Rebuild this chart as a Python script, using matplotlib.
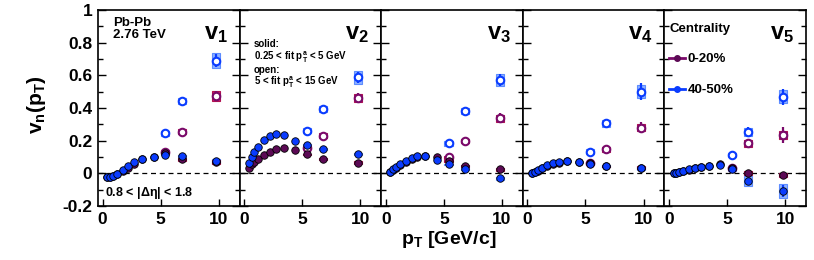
import matplotlib
matplotlib.use("Agg")
import matplotlib.pyplot as plt
from matplotlib.lines import Line2D
from matplotlib.ticker import MultipleLocator, FuncFormatter

plt.rcParams['font.family'] = ['Liberation Sans', 'DejaVu Sans']
plt.rcParams['font.weight'] = 'bold'
plt.rcParams['mathtext.fontset'] = 'custom'
plt.rcParams['mathtext.rm'] = 'Liberation Sans:bold'
plt.rcParams['mathtext.bf'] = 'Liberation Sans:bold'
plt.rcParams['mathtext.it'] = 'Liberation Sans:bold'
plt.rcParams['mathtext.default'] = 'bf'

# ---------------- data ----------------
harmonics = [1, 2, 3, 4, 5]
pt = [0.4, 0.63, 0.88, 1.22, 1.72, 2.22, 2.72, 3.4, 4.4, 5.4, 6.8, 9.8]
pt_hi = [5.4, 6.8, 9.8]

# solid: 0.25 < fit pT^a < 5 GeV
v1_c0020 = [-0.02, -0.02, -0.015, -0.005, 0.015, 0.035, 0.055, 0.085, 0.10, 0.125, 0.085, 0.07]
v1_c4050 = [-0.02, -0.02, -0.015, -0.005, 0.02, 0.045, 0.07, 0.09, 0.10, 0.115, 0.105, 0.075]
v2_c0020 = [0.035, 0.057, 0.071, 0.09, 0.112, 0.133, 0.149, 0.157, 0.143, 0.116, 0.086, 0.065]
v2_c4050 = [0.061, 0.098, 0.129, 0.163, 0.204, 0.229, 0.239, 0.235, 0.20, 0.173, 0.147, 0.118]
v3_c0020 = [0.01, 0.02, 0.032, 0.048, 0.068, 0.088, 0.10, 0.106, 0.098, 0.075, 0.045, 0.024]
v3_c4050 = [0.01, 0.024, 0.037, 0.055, 0.078, 0.096, 0.104, 0.106, 0.082, 0.055, 0.024, -0.031]
v4_c0020 = [0.004, 0.008, 0.016, 0.03, 0.045, 0.057, 0.066, 0.074, 0.07, 0.062, 0.042, 0.035]
v4_c4050 = [0.004, 0.01, 0.02, 0.035, 0.051, 0.063, 0.071, 0.078, 0.071, 0.057, 0.047, 0.031]
v5_c0020 = [0.0, 0.003, 0.007, 0.012, 0.022, 0.032, 0.039, 0.045, 0.055, 0.03, 0.004, -0.01]
v5_c4050 = [0.0, 0.004, 0.008, 0.014, 0.024, 0.035, 0.041, 0.045, 0.051, 0.024, -0.047, -0.108]

# open: 5 < fit pT^a < 15 GeV
v1_open_c0020 = [0.13, 0.255, 0.475]
v1_open_c4050 = [0.245, 0.443, 0.69]
v2_open_c0020 = [0.158, 0.231, 0.459]
v2_open_c4050 = [0.261, 0.394, 0.588]
v3_open_c0020 = [0.098, 0.198, 0.337]
v3_open_c4050 = [0.184, 0.382, 0.571]
v4_open_c0020 = [0.061, 0.147, 0.28]
v4_open_c4050 = [0.133, 0.306, 0.50]
v5_open_c0020 = [0.03, 0.184, 0.235]
v5_open_c4050 = [0.112, 0.255, 0.469]

# uncertainties at high pT (per harmonic)
stat_open_c0020 = [[0.008, 0.01, 0.03], [0.008, 0.012, 0.03], [0.008, 0.015, 0.03], [0.01, 0.02, 0.035], [0.015, 0.025, 0.05]]
stat_open_c4050 = [[0.01, 0.015, 0.04], [0.01, 0.015, 0.035], [0.01, 0.02, 0.035], [0.015, 0.025, 0.05], [0.02, 0.03, 0.05]]
sys_open_c0020 = [[0.01, 0.015, 0.03], [0.01, 0.015, 0.025], [0.01, 0.015, 0.022], [0.01, 0.015, 0.022], [0.01, 0.02, 0.025]]
sys_open_c4050 = [[0.015, 0.02, 0.045], [0.015, 0.02, 0.04], [0.015, 0.02, 0.035], [0.015, 0.02, 0.04], [0.015, 0.025, 0.04]]
stat_c0020 = [[0.005, 0.008, 0.015], [0.005, 0.008, 0.012], [0.005, 0.008, 0.012], [0.005, 0.008, 0.012], [0.005, 0.01, 0.015]]
stat_c4050 = [[0.006, 0.01, 0.02], [0.006, 0.01, 0.015], [0.006, 0.01, 0.015], [0.006, 0.01, 0.015], [0.008, 0.02, 0.035]]
sys_c0020 = [[0.005, 0.008, 0.01], [0.005, 0.005, 0.008], [0.005, 0.005, 0.008], [0.005, 0.005, 0.008], [0.008, 0.012, 0.012]]
sys_c4050 = [[0.005, 0.008, 0.012], [0.005, 0.006, 0.008], [0.005, 0.006, 0.008], [0.005, 0.006, 0.008], [0.012, 0.028, 0.045]]

solid_c0020 = [v1_c0020, v2_c0020, v3_c0020, v4_c0020, v5_c0020]
solid_c4050 = [v1_c4050, v2_c4050, v3_c4050, v4_c4050, v5_c4050]
open_c0020 = [v1_open_c0020, v2_open_c0020, v3_open_c0020, v4_open_c0020, v5_open_c0020]
open_c4050 = [v1_open_c4050, v2_open_c4050, v3_open_c4050, v4_open_c4050, v5_open_c4050]

fit_lines = ['solid:',
             '0.25 < fit ' + r'$\mathbf{p}_{\mathbf{T}}^{\mathbf{a}}$' + ' < 5 GeV',
             'open:',
             '5 < fit ' + r'$\mathbf{p}_{\mathbf{T}}^{\mathbf{a}}$' + ' < 15 GeV']

# ---------------- style ----------------
purple = '#5c0a55'
purple_open = '#7a0a6a'
crimson_box = '#d4286a'
crimson_edge = '#b01050'
blue = '#0a3cff'
blue_box = '#8fb2ff'
blue_box_edge = '#5d8cff'
ms = 5.4
box_w = 0.7

W, H = 814, 260
fig = plt.figure(figsize=(W / 100, H / 100), dpi=100)
left_px, right_px, top_px, bot_px = 98, 806, 10, 206
pw = (right_px - left_px) / 5

axes = []
for i, n in enumerate(harmonics):
    ax = fig.add_axes([(left_px + i * pw) / W, (H - bot_px) / H, pw / W, (bot_px - top_px) / H])
    axes.append(ax)
    ax.set_xlim(-0.4, 11.8)
    ax.set_ylim(-0.2, 1.0)
    ax.axhline(0, color='black', lw=0.9, ls=(0, (4, 3)), zorder=1)

    # systematic boxes
    for vals, sys_, fc, ec in [
        (open_c4050[i], sys_open_c4050[i], blue_box, blue_box_edge),
        (open_c0020[i], sys_open_c0020[i], crimson_box, crimson_edge),
        (solid_c4050[i][-3:], sys_c4050[i], blue_box, blue_box_edge),
        (solid_c0020[i][-3:], sys_c0020[i], crimson_box, crimson_edge),
    ]:
        ax.bar(pt_hi, [2 * s for s in sys_], width=box_w,
               bottom=[v - s for v, s in zip(vals, sys_)],
               color=fc, edgecolor=ec, linewidth=0.8, zorder=2)

    # stat error bars
    ax.errorbar(pt_hi, solid_c0020[i][-3:], yerr=stat_c0020[i], fmt='none', ecolor=purple, elinewidth=1.6, zorder=3)
    ax.errorbar(pt_hi, solid_c4050[i][-3:], yerr=stat_c4050[i], fmt='none', ecolor=blue, elinewidth=1.6, zorder=3)
    ax.errorbar(pt_hi, open_c0020[i], yerr=stat_open_c0020[i], fmt='none', ecolor=purple_open, elinewidth=1.6, zorder=3)
    ax.errorbar(pt_hi, open_c4050[i], yerr=stat_open_c4050[i], fmt='none', ecolor=blue, elinewidth=1.6, zorder=3)

    # markers
    ax.plot(pt_hi, open_c0020[i], 'o', ms=ms, mfc='white', mec=purple_open, mew=1.5, zorder=4)
    ax.plot(pt_hi, open_c4050[i], 'o', ms=ms, mfc='white', mec=blue, mew=1.5, zorder=4)
    ax.plot(pt, solid_c0020[i], 'o', ms=ms, mfc=purple, mec='black', mew=0.6, zorder=5)
    ax.plot(pt, solid_c4050[i], 'o', ms=ms, mfc=blue, mec='black', mew=0.6, zorder=6)

    ax.text(0.83, 0.88, r'$\mathbf{v}_{\mathbf{%d}}$' % n, transform=ax.transAxes,
            fontsize=17, ha='center', va='center')

    ax.set_xticks([0, 5, 10])
    ax.xaxis.set_major_formatter(FuncFormatter(lambda v, p: f'{v:g}'))
    ax.yaxis.set_major_locator(MultipleLocator(0.2))
    ax.yaxis.set_minor_locator(MultipleLocator(0.1))
    ax.yaxis.set_major_formatter(FuncFormatter(lambda v, p: f'{v:.1f}'.rstrip('0').rstrip('.') if abs(v) > 1e-9 else '0'))
    ax.tick_params(axis='y', which='both', direction='in', left=True, right=True)
    ax.tick_params(axis='y', which='major', length=6, width=1.0, labelsize=12.5, pad=4)
    ax.tick_params(axis='y', which='minor', length=3.5, width=1.0)
    ax.tick_params(axis='x', which='major', direction='in', length=5, width=1.0, labelsize=12.5, pad=4, top=False)
    if i > 0:
        ax.tick_params(axis='y', labelleft=False)
    for sp in ax.spines.values():
        sp.set_linewidth(1.2)
    for lab in ax.get_xticklabels() + ax.get_yticklabels():
        lab.set_fontweight('bold')

# annotations
axes[0].text(0.106, 0.965, 'Pb-Pb\n2.76 TeV', transform=axes[0].transAxes, fontsize=9.5,
             ha='left', va='top', linespacing=1.0)
axes[0].text(0.05, 0.066, r'0.8 < |$\Delta\eta$| < 1.8', transform=axes[0].transAxes, fontsize=9,
             ha='left', va='center')
for line, yy in zip(fit_lines, [0.827, 0.760, 0.694, 0.633]):
    axes[1].text(0.1, yy, line, transform=axes[1].transAxes, fontsize=7, ha='left', va='center')

handles = [Line2D([], [], color=purple_open, lw=2, marker='o', ms=4, mfc=purple, mec=purple),
           Line2D([], [], color=blue, lw=2, marker='o', ms=4, mfc=blue, mec=blue)]
leg = axes[4].legend(handles, ['0-20%', '40-50%'], title='Centrality', loc='upper left',
                     bbox_to_anchor=(0.035, 0.935), frameon=False, fontsize=9.5,
                     title_fontproperties={'size': 9.5, 'weight': 'bold'},
                     alignment='left', handlelength=1.2, handletextpad=0.2,
                     labelspacing=1.4, borderpad=0, borderaxespad=0)

fig.text(37 / W, 1 - 105 / H, r'$\mathbf{v}_{\mathbf{n}}\mathbf{(p}_{\mathbf{T}}\mathbf{)}$', rotation=90,
         fontsize=15, ha='center', va='center')
fig.text(449 / W, 1 - 240 / H, r'$\mathbf{p}_{\mathbf{T}}$ [GeV/c]', fontsize=14,
         ha='center', va='center')

fig.savefig('out.png', dpi=100)
